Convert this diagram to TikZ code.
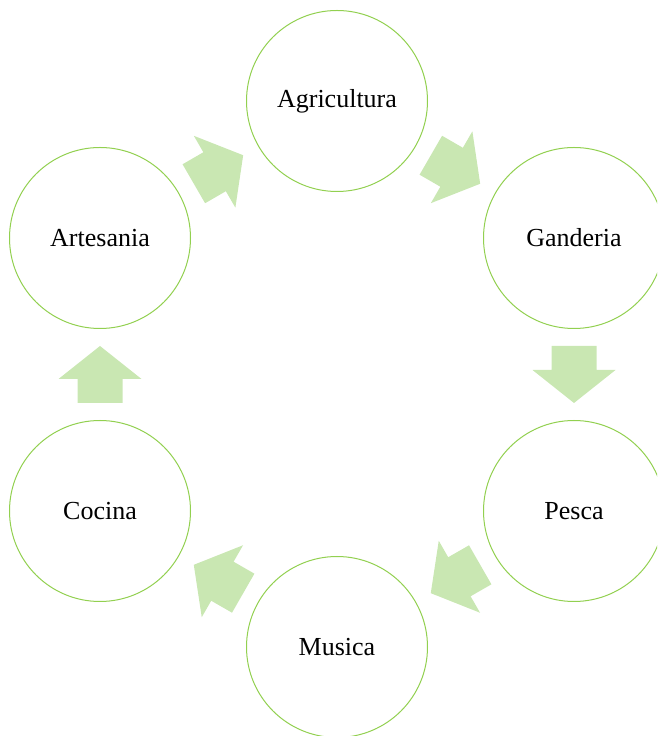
\documentclass[tikz,border=0pt]{standalone}
\usepackage{fontspec}
\setmainfont{Liberation Serif}
\usetikzlibrary{calc}
\definecolor{ringgreen}{HTML}{92D050}
\definecolor{arrowgreen}{HTML}{C9E7B2}
\tikzset{
  ring/.style={circle, draw=ringgreen, line width=1pt, minimum size=181pt, inner sep=0pt,
    font=\fontsize{26}{30}\selectfont, text=black},
  blockfill/.style={fill=arrowgreen, draw=none}
}
\begin{document}
\begin{tikzpicture}[x=1pt,y=1pt]
\useasboundingbox (0,0) rectangle (657,736);
\clip (0,0) rectangle (657,736);
\node[ring] (agr) at (337,635) {Agricultura};
\node[ring] (gan) at (574,498) {Ganderia};
\node[ring] (pes) at (574,225) {Pesca};
\node[ring] (mus) at (337,89) {Musica};
\node[ring] (coc) at (100,225) {Cocina};
\node[ring] (art) at (100,498) {Artesania};
\foreach \a/\b in {art/agr, agr/gan, gan/pes, pes/mus, mus/coc, coc/art} {
  \coordinate (c) at ($(\a.center)!0.5!(\b.center)$);
  \coordinate (T) at ($(c)!28.5pt!(\b.center)$);
  \coordinate (S) at ($(c)!-28.5pt!(\b.center)$);
  \coordinate (H) at ($(c)!-4.5pt!(\b.center)$);
  \fill[blockfill] ($(S)!22.5pt!90:(T)$) -- ($(H)!22.5pt!90:(T)$) -- ($(H)!41.5pt!90:(T)$)
    -- (T) -- ($(H)!41.5pt!-90:(T)$) -- ($(H)!22.5pt!-90:(T)$) -- ($(S)!22.5pt!-90:(T)$) -- cycle;
}
\end{tikzpicture}
\end{document}
